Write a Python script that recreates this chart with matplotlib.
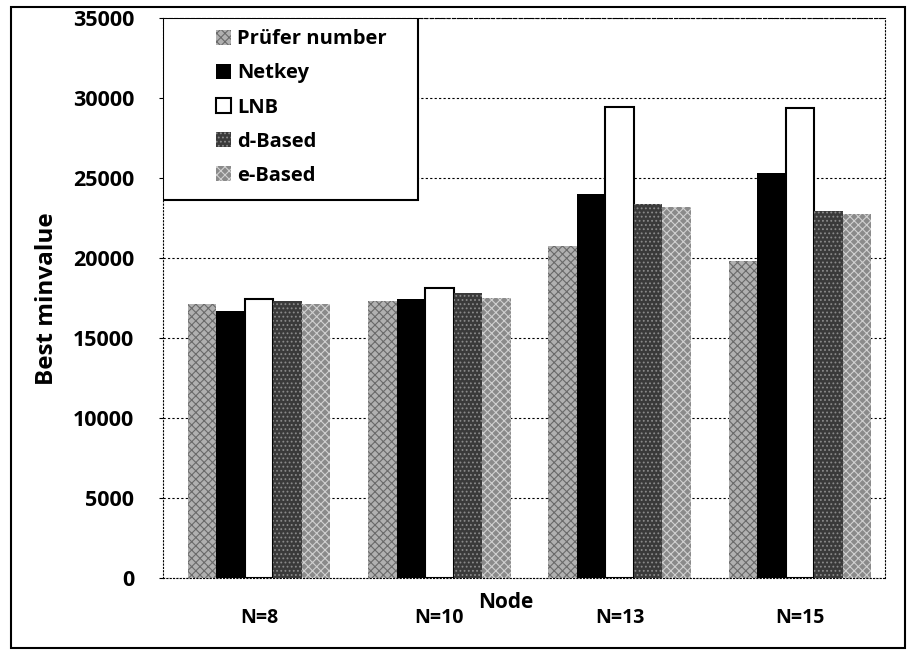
import numpy as np
import matplotlib.pyplot as plt
from matplotlib.patches import Rectangle

plt.rcParams['font.family'] = ['Open Sans', 'DejaVu Sans']
plt.rcParams['hatch.linewidth'] = 0.8

nodes = ["N=8", "N=10", "N=13", "N=15"]
series = ["Prüfer number", "Netkey", "LNB", "d-Based", "e-Based"]
prufer = [17100, 17300, 20750, 19800]
netkey = [16700, 17400, 24000, 25300]
lnb = [17400, 18100, 29400, 29350]
d_based = [17300, 17800, 23350, 22900]
e_based = [17100, 17500, 23200, 22750]
values = [prufer, netkey, lnb, d_based, e_based]

faces = ["#b0b0b0", "black", "white", "#3a3a3a", "#8a8a8a"]
hatches = ["xxxx", None, None, "....", "xxxx"]
edges = ["#6a6a6a", "black", "black", "#8a8a8a", "#d0d0d0"]

fig = plt.figure(figsize=(9.17, 6.56), dpi=100)
ax = fig.add_axes([0.178, 0.119, 0.787, 0.854])

x = np.arange(len(nodes))
w = 0.158
for i, vals in enumerate(values):
    bars = ax.bar(x + (i - 2) * w + 0.03, vals, w, color=faces[i], hatch=hatches[i],
                  edgecolor=edges[i], linewidth=0, label=series[i], zorder=3)
    if series[i] == "LNB":
        for b in bars:
            b.set_edgecolor("black")
            b.set_linewidth(1.5)

ax.set_xlim(-0.5, 3.5)
ax.set_ylim(0, 35000)
ax.set_yticks(range(0, 35001, 5000))
ax.set_xticks(x + 0.03)
ax.set_xticklabels(nodes, fontsize=14, fontweight="bold")
ax.tick_params(axis="y", labelsize=15.5, length=3, pad=18)
ax.tick_params(axis="x", length=0, pad=22)
for lab in ax.get_yticklabels():
    lab.set_fontweight("bold")
ax.yaxis.grid(True, linestyle=(0, (2, 2)), color="black", linewidth=0.8, zorder=0)
for s in ax.spines.values():
    s.set_linestyle((0, (1, 2)))
    s.set_linewidth(0.8)
ax.spines["top"].set_linestyle((0, (3, 2)))

fig.text(0.051, 0.545, "Best minvalue", fontsize=17.5, fontweight="bold",
         rotation=90, ha="center", va="center")
fig.text(0.552, 0.082, "Node", fontsize=15, fontweight="bold", ha="center", va="center")

# legend box drawn separately so it can be wider than its entries
ax.add_patch(Rectangle((0, 0.675), 0.353, 0.325, transform=ax.transAxes,
                       fill=True, facecolor="white", edgecolor="black", linewidth=1.5, zorder=4))
leg = ax.legend(loc="upper left", bbox_to_anchor=(0.065, 0.99), fontsize=14.5,
                frameon=False, borderpad=0.3, labelspacing=0.7, handlelength=0.75,
                handleheight=0.75, handletextpad=0.3, borderaxespad=0.0)
leg.set_zorder(5)
for t in leg.get_texts():
    t.set_fontweight("bold")

fig.patches.append(Rectangle((0.012, 0.012), 0.975, 0.978, transform=fig.transFigure,
                             fill=False, edgecolor="black", linewidth=1.5))

fig.savefig("out.png", dpi=100)
